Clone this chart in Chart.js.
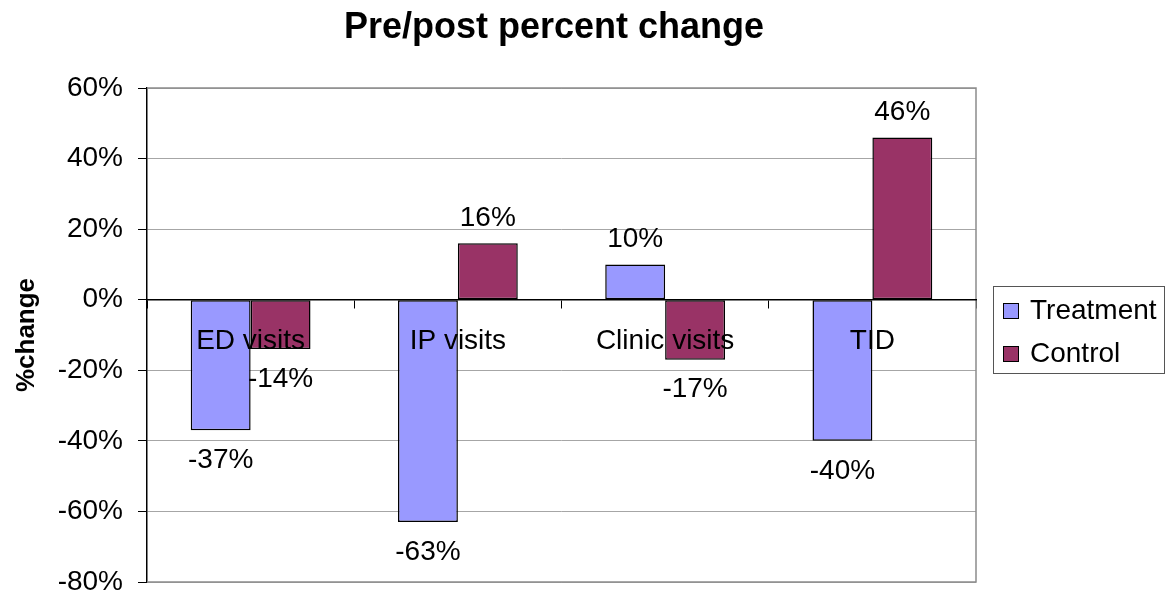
<!DOCTYPE html>
<html>
<head>
<meta charset="utf-8">
<script src="https://cdn.jsdelivr.net/npm/chart.js@4.4.1/dist/chart.umd.min.js"></script>
<style>
  html, body { margin: 0; padding: 0; background: #ffffff; }
  #wrap { width: 1166px; height: 596px; position: relative; }
</style>
</head>
<body>
<div id="wrap"><canvas id="chart" width="1166" height="596"></canvas></div>
<script>
// Percent change before vs. after, per measure
const categories = ['ED visits', 'IP visits', 'Clinic visits', 'TID'];
const treatmentValues = [-37, -63, 10, -40];
const controlValues = [-14, 16, -17, 46];
const seriesNames = ['Treatment', 'Control'];
const yTicks = [60, 40, 20, 0, -20, -40, -60, -80];

const chartTitle = 'Pre/post percent change';
const yAxisTitle = '%change';

const FONT = "'Liberation Sans', Arial, sans-serif";
const TREAT_COLOR = '#9999FF';
const CONTROL_COLOR = '#993366';

// Heading above the plot
const titlePlugin = {
  id: 'heading',
  afterDraw(chart) {
    const ctx = chart.ctx;
    ctx.save();
    ctx.font = "bold 36px " + FONT;
    ctx.fillStyle = '#000';
    ctx.textAlign = 'center';
    ctx.textBaseline = 'alphabetic';
    ctx.fillText(chartTitle, 554, 38);
    ctx.restore();
  }
};

// Gray frame around the plot area
const framePlugin = {
  id: 'frame',
  beforeDatasetsDraw(chart) {
    const a = chart.chartArea;
    const ctx = chart.ctx;
    ctx.save();
    ctx.strokeStyle = '#8c8c8c';
    ctx.lineWidth = 1.5;
    ctx.beginPath();
    ctx.moveTo(a.left, a.top);
    ctx.lineTo(a.right, a.top);
    ctx.lineTo(a.right, a.bottom);
    ctx.lineTo(a.left, a.bottom);
    ctx.stroke();
    ctx.restore();
  }
};

// Category names just under the zero line, drawn over the bars,
// and value labels above positive bars / below negative ones
const labelPlugin = {
  id: 'labels',
  afterDatasetsDraw(chart) {
    const ctx = chart.ctx;
    const xs = chart.scales.x;
    const ys = chart.scales.y;
    ctx.save();
    ctx.font = "28px " + FONT;
    ctx.fillStyle = '#000';
    ctx.textAlign = 'center';
    ctx.textBaseline = 'middle';
    const zeroY = ys.getPixelForValue(0);
    chart.data.labels.forEach((lab, i) => {
      ctx.fillText(lab, xs.getPixelForValue(i), zeroY + 42);
    });
    chart.data.datasets.forEach((ds, di) => {
      const meta = chart.getDatasetMeta(di);
      meta.data.forEach((bar, i) => {
        const v = ds.data[i];
        const y = v >= 0 ? bar.y - 25 : bar.y + 30;
        ctx.fillText(v + '%', bar.x, y);
      });
    });
    ctx.restore();
  }
};

// Boxed legend at the right
const legendBoxPlugin = {
  id: 'legendBox',
  afterDraw(chart) {
    const ctx = chart.ctx;
    const box = { x: 993, y: 286, w: 171, h: 87 };
    ctx.save();
    ctx.fillStyle = '#fff';
    ctx.fillRect(box.x, box.y, box.w, box.h);
    ctx.strokeStyle = '#555';
    ctx.lineWidth = 1;
    ctx.strokeRect(box.x + 0.5, box.y + 0.5, box.w, box.h);
    ctx.font = "28px " + FONT;
    ctx.textAlign = 'left';
    ctx.textBaseline = 'middle';
    chart.data.datasets.forEach((ds, i) => {
      const cy = 310 + i * 43;
      ctx.fillStyle = ds.backgroundColor;
      ctx.fillRect(1003, cy - 7, 15, 15);
      ctx.strokeStyle = '#000';
      ctx.strokeRect(1003.5, cy - 6.5, 15, 15);
      ctx.fillStyle = '#000';
      ctx.fillText(ds.label, 1030, cy + 1);
    });
    ctx.restore();
  }
};

new Chart(document.getElementById('chart'), {
  type: 'bar',
  data: {
    labels: categories,
    datasets: [
      {
        label: seriesNames[0],
        data: treatmentValues,
        backgroundColor: TREAT_COLOR,
        borderColor: '#000',
        borderWidth: 1.5,
        borderSkipped: false,
        categoryPercentage: 0.578,
        barPercentage: 1.0
      },
      {
        label: seriesNames[1],
        data: controlValues,
        backgroundColor: CONTROL_COLOR,
        borderColor: '#000',
        borderWidth: 1.5,
        borderSkipped: false,
        categoryPercentage: 0.578,
        barPercentage: 1.0
      }
    ]
  },
  options: {
    responsive: false,
    animation: false,
    events: [],
    layout: { padding: { left: 0, top: 88, right: 190, bottom: 14 } },
    plugins: {
      legend: { display: false },
      title: { display: false },
      tooltip: { enabled: false }
    },
    scales: {
      x: {
        position: { y: 0 },
        afterFit(scale) { scale.height = 0; scale.paddingLeft = 0; scale.paddingRight = 0; },
        grid: {
          display: true,
          drawOnChartArea: false,
          drawTicks: true,
          tickLength: 8,
          tickColor: '#000',
          offset: true
        },
        border: { display: true, color: '#000', width: 1.5, z: 1 },
        ticks: { display: false }
      },
      y: {
        min: -80,
        max: 60,
        afterFit(scale) { scale.width = 147; scale.paddingTop = 0; scale.paddingBottom = 0; },
        afterBuildTicks(scale) {
          scale.ticks = yTicks.slice().reverse().map(v => ({ value: v }));
        },
        grid: {
          color: ctx => (ctx.tick && ctx.tick.value === 0) ? '#000' : '#a6a6a6',
          lineWidth: 1,
          tickLength: 9,
          tickColor: '#000'
        },
        border: { display: true, color: '#000', width: 1.5 },
        ticks: {
          font: { family: FONT, size: 28, lineHeight: 1.0 },
          color: '#000',
          padding: 15,
          callback: v => v + '%'
        },
        title: {
          display: true,
          text: yAxisTitle,
          font: { family: FONT, size: 26, weight: 'bold' },
          color: '#000',
          padding: { top: 11, bottom: 0 }
        }
      }
    }
  },
  plugins: [framePlugin, labelPlugin, titlePlugin, legendBoxPlugin]
});
</script>
</body>
</html>
